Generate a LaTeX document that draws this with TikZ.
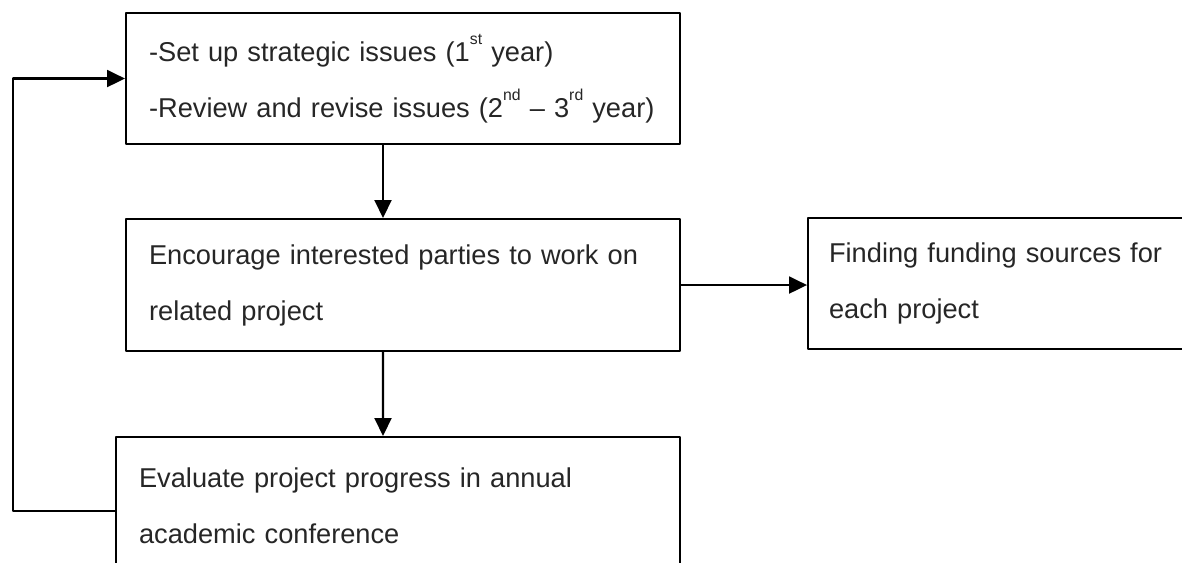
\documentclass[tikz,border=0pt]{standalone}
\usepackage{fontspec}
\setmainfont{Liberation Sans}
\usetikzlibrary{arrows.meta}
\newcommand{\ordsup}[1]{\raisebox{0.62em}{\fontsize{9pt}{9pt}\selectfont #1}}
\begin{document}
\begin{tikzpicture}[x=0.02cm, y=-0.02cm, line width=1.2pt, line join=round, >={Triangle[length=0.36cm, width=0.34cm]},
	stage/.style={draw, rectangle, anchor=north west, inner xsep=0pt, align=left, text=black!85, font=\fontsize{15.5pt}{31.9pt}\selectfont}]
	\clip (0,0) rectangle (1182,563);
	\node[stage, minimum width=11.08cm, minimum height=2.62cm, text width=10.16cm] (issues) at (125,12) {\mbox{-Set up strategic issues (1\ordsup{st} year)}\\\mbox{-Review and revise issues (2\ordsup{nd} \textendash\ 3\ordsup{rd} year)}};
	\node[stage, minimum width=11.08cm, minimum height=2.64cm, text width=10.16cm] (encourage) at (125,218) {Encourage interested parties to work on\\related project};
	\node[stage, minimum width=7.7cm, minimum height=2.62cm, text width=6.86cm] (funding) at (807,217) {Finding funding sources for\\each project};
	\node[stage, minimum width=11.28cm, minimum height=2.74cm, text width=10.36cm] (evaluate) at (115,436) {Evaluate project progress in annual\\academic conference};
	\draw[->] ([xshift=-0.4cm]issues.south) -- ([xshift=-0.4cm]encourage.north);
	\draw[->] ([xshift=-0.4cm]encourage.south) -- ([xshift=-0.3cm]evaluate.north);
	\draw[->] (encourage.east) -- (encourage.east -| funding.west);
	\draw[->] ([yshift=-0.11cm]evaluate.west) -- ++(-102,0) |- (issues.west);
\end{tikzpicture}
\end{document}
